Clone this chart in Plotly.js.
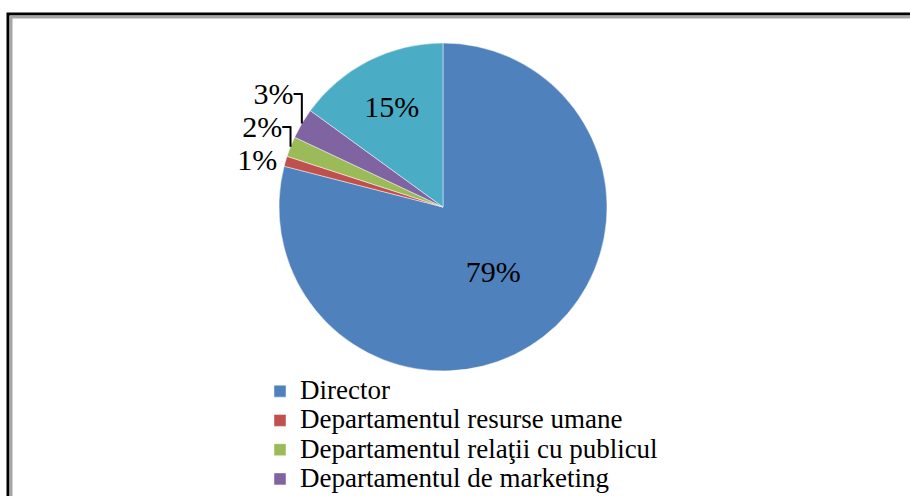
<!DOCTYPE html>
<html>
<head>
<meta charset="utf-8">
<script src="https://cdn.plot.ly/plotly-3.0.1.min.js"></script>
<style>
  html, body { margin: 0; padding: 0; background: #fff; overflow: hidden; width: 910px; height: 496px; }
  #chart { width: 910px; height: 540px; }
</style>
</head>
<body>
<div id="chart"></div>
<script>
// Data
const categories = [
  "Director",
  "Departamentul resurse umane",
  "Departamentul relaţii cu publicul",
  "Departamentul de marketing",
  "Departamentul economic"
];
const shares = [79, 1, 2, 3, 15];
const sliceColors = ["#4F81BD", "#C0504D", "#9BBB59", "#8064A2", "#4BACC6"];
const labelPositions = ["inside", "outside", "outside", "outside", "inside"];

const SERIF = "Liberation Serif";
const W = 910, H = 540;   // canvas taller than the 496px window: last legend entry is cut off like the reference
const cx = 443, cy = 207, r = 164;

// legend text drawn at 27px while row spacing follows the smaller legend font size
const legendNames = categories.map(c => '<span style="font-size:27px">' + c + '</span>');

const trace = {
  type: "pie",
  labels: legendNames,
  values: shares,
  sort: false,
  direction: "clockwise",
  rotation: 0,
  marker: { colors: sliceColors, line: { color: "rgba(255,255,255,0.6)", width: 0.8 } },
  texttemplate: "%{percent:.0%}",
  textposition: labelPositions,
  insidetextorientation: "horizontal",
  textfont: { family: SERIF, size: 30, color: "#000" },
  outsidetextfont: { family: SERIF, size: 30, color: "#000" },
  insidetextfont: { family: SERIF, size: 30, color: "#000" },
  hoverinfo: "percent",
  domain: {
    x: [(cx - r) / W, (cx + r) / W],
    y: [1 - (cy + r) / H, 1 - (cy - r) / H]
  },
  showlegend: true
};

const layout = {
  width: W,
  height: H,
  margin: { l: 0, r: 0, t: 0, b: 0 },
  paper_bgcolor: "#ffffff",
  font: { family: SERIF },
  showlegend: true,
  legend: {
    x: 260 / W,
    y: 1 - 371.5 / H,
    xanchor: "left",
    yanchor: "top",
    orientation: "v",
    font: { family: SERIF, size: 20.2, color: "#000" },
    bgcolor: "rgba(0,0,0,0)",
    traceorder: "normal",
    tracegroupgap: 0
  },
  shapes: [
    { type: "rect", xref: "paper", yref: "paper",
      x0: 8 / W, x1: 1.05, y0: -0.05, y1: 1 - 14 / H,
      line: { color: "#000", width: 3 } },
    { type: "rect", xref: "paper", yref: "paper",
      x0: 11 / W, x1: 1.05, y0: -0.05, y1: 1 - 17 / H,
      line: { color: "#a6a6a6", width: 3 } }
  ]
};

Plotly.newPlot("chart", [trace], layout, { displayModeBar: false, staticPlot: true });
</script>
</body>
</html>
